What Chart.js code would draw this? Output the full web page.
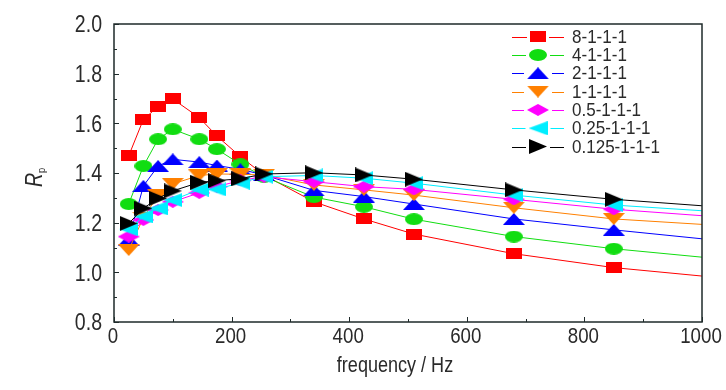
<!DOCTYPE html>
<html>
<head>
<meta charset="utf-8">
<script src="https://cdn.jsdelivr.net/npm/chart.js@4.4.1/dist/chart.umd.min.js"></script>
<style>
  html, body { margin: 0; padding: 0; background: #fff; }
  canvas { display: block; }
</style>
</head>
<body>
<canvas id="chart" width="726" height="390"></canvas>
<script>
// frequency (Hz); last point only carries the line out to the axis end
const freq = [25, 50, 75, 100, 145, 175, 215, 255, 340, 425, 510, 680, 850, 1000];

const rp8 = [1.469, 1.616, 1.667, 1.698, 1.623, 1.549, 1.466, 1.392, 1.284, 1.215, 1.154, 1.075, 1.019, 0.985];
const rp4 = [1.275, 1.428, 1.536, 1.576, 1.536, 1.496, 1.435, 1.385, 1.303, 1.264, 1.214, 1.144, 1.095, 1.061];
const rp2 = [1.130, 1.348, 1.428, 1.455, 1.444, 1.430, 1.415, 1.392, 1.330, 1.305, 1.275, 1.215, 1.171, 1.135];
const rp1 = [1.090, 1.220, 1.310, 1.356, 1.390, 1.396, 1.395, 1.392, 1.352, 1.332, 1.311, 1.260, 1.215, 1.193];
const rp05 = [1.144, 1.211, 1.251, 1.284, 1.320, 1.345, 1.370, 1.385, 1.365, 1.345, 1.334, 1.294, 1.254, 1.228];
const rp025 = [1.173, 1.225, 1.258, 1.291, 1.333, 1.334, 1.361, 1.385, 1.390, 1.379, 1.359, 1.311, 1.271, 1.248];
const rp0125 = [1.197, 1.258, 1.298, 1.328, 1.362, 1.369, 1.377, 1.396, 1.401, 1.392, 1.375, 1.332, 1.294, 1.268];

const seriesLabels = ['8-1-1-1', '4-1-1-1', '2-1-1-1', '1-1-1-1', '0.5-1-1-1', '0.25-1-1-1', '0.125-1-1-1'];
const seriesValues = [rp8, rp4, rp2, rp1, rp05, rp025, rp0125];
const seriesColors = ['#ff0000', '#11dd11', '#0000ff', '#ff8000', '#ff00ff', '#00eeff', '#000000'];
const seriesShapes = ['square', 'circle', 'up', 'down', 'diamond', 'left', 'right'];

const yTicks = [0.8, 1.0, 1.2, 1.4, 1.6, 1.8, 2.0];
const xTicks = [0, 200, 400, 600, 800, 1000];

const FONT = "'Liberation Sans', Arial, sans-serif";
const TEXT = '#2a2a2a';
const NARROW = 0.85; // the original uses a condensed face

// marker sizes (w, h) - the original figure is a bit stretched sideways
const markerSize = {
    square: [16, 11], circle: [18, 12], up: [22, 12], down: [22, 12],
    diamond: [22, 12], left: [19, 14], right: [18, 15]
};

function makeMarker(shape, color) {
    const w = markerSize[shape][0], h = markerSize[shape][1];
    const c = document.createElement('canvas');
    c.width = w; c.height = h;
    const g = c.getContext('2d');
    g.fillStyle = color;
    g.beginPath();
    if (shape === 'square') g.rect(0, 0, w, h);
    else if (shape === 'circle') g.ellipse(w / 2, h / 2, w / 2, h / 2, 0, 0, Math.PI * 2);
    else if (shape === 'up') { g.moveTo(w / 2, 0); g.lineTo(w, h); g.lineTo(0, h); }
    else if (shape === 'down') { g.moveTo(0, 0); g.lineTo(w, 0); g.lineTo(w / 2, h); }
    else if (shape === 'diamond') { g.moveTo(w / 2, 0); g.lineTo(w, h / 2); g.lineTo(w / 2, h); g.lineTo(0, h / 2); }
    else if (shape === 'left') { g.moveTo(0, h / 2); g.lineTo(w, 0); g.lineTo(w, h); }
    else if (shape === 'right') { g.moveTo(0, 0); g.lineTo(w, h / 2); g.lineTo(0, h); }
    g.closePath();
    g.fill();
    return c;
}

const markers = seriesShapes.map(function (s, i) { return makeMarker(s, seriesColors[i]); });

const datasets = seriesValues.map(function (vals, i) {
    return {
        label: seriesLabels[i],
        data: freq.map(function (f, j) { return { x: f, y: vals[j] }; }),
        borderColor: seriesColors[i],
        borderWidth: 1,
        pointStyle: markers[i],
        pointRadius: freq.map(function (f, j) { return j === freq.length - 1 ? 0 : 6; }),
        tension: 0,
        fill: false,
        order: seriesValues.length - i
    };
});

function narrowText(ctx, txt, x, y, align, scale) {
    ctx.save();
    ctx.translate(x, y);
    ctx.scale(scale, 1);
    ctx.textAlign = align;
    ctx.fillText(txt, 0, 0);
    ctx.restore();
}

const decorPlugin = {
    id: 'decor',
    afterDraw: function (chart) {
        const ctx = chart.ctx;
        const a = chart.chartArea;
        const xs = chart.scales.x, ys = chart.scales.y;
        ctx.save();

        // frame
        ctx.strokeStyle = '#1e2a2a';
        ctx.lineWidth = 1.5;
        ctx.strokeRect(a.left, a.top, a.right - a.left, a.bottom - a.top);

        // inward ticks, major + minor
        ctx.lineWidth = 1;
        ctx.beginPath();
        for (let v = 0; v <= 1000; v += 100) {
            const px = Math.round(xs.getPixelForValue(v)) + 0.5;
            const len = v % 200 === 0 ? 5 : 3;
            ctx.moveTo(px, a.bottom);
            ctx.lineTo(px, a.bottom - len);
        }
        for (let k = 8; k <= 20; k++) {
            const py = Math.round(ys.getPixelForValue(k / 10)) + 0.5;
            const len = k % 2 === 0 ? 5 : 3;
            ctx.moveTo(a.left, py);
            ctx.lineTo(a.left + len, py);
        }
        ctx.stroke();

        // tick labels
        ctx.fillStyle = TEXT;
        ctx.textBaseline = 'middle';
        ctx.font = '23px ' + FONT;
        yTicks.forEach(function (v) {
            narrowText(ctx, v.toFixed(1), a.left - 12, ys.getPixelForValue(v) + 2, 'right', NARROW);
        });
        ctx.font = '22px ' + FONT;
        xTicks.forEach(function (v) {
            narrowText(ctx, String(v), xs.getPixelForValue(v) - 1, 337, 'center', NARROW);
        });

        // axis titles
        ctx.textBaseline = 'alphabetic';
        ctx.font = '22px ' + FONT;
        narrowText(ctx, 'frequency / Hz', 395, 372, 'center', 0.82);

        ctx.save();
        ctx.translate(42, 187);
        ctx.rotate(-Math.PI / 2);
        ctx.scale(NARROW, 1);
        ctx.textAlign = 'left';
        ctx.font = 'italic 23px ' + FONT;
        ctx.fillText('R', 0, 0);
        const rw = ctx.measureText('R').width;
        ctx.font = '11px ' + FONT;
        ctx.fillText('p', rw, 3);
        ctx.restore();

        // legend
        const lx = 538, ly = 36.7, step = 18.3;
        ctx.font = '18.5px ' + FONT;
        ctx.textBaseline = 'middle';
        seriesLabels.forEach(function (lab, i) {
            const y = ly + step * i;
            const m = markers[i];
            ctx.strokeStyle = seriesColors[i];
            ctx.lineWidth = 1;
            ctx.beginPath();
            ctx.moveTo(512, Math.round(y) + 0.5);
            ctx.lineTo(lx - m.width / 2 - 3, Math.round(y) + 0.5);
            ctx.moveTo(lx + m.width / 2 + 3, Math.round(y) + 0.5);
            ctx.lineTo(564, Math.round(y) + 0.5);
            ctx.stroke();
            ctx.drawImage(m, lx - m.width / 2, y - m.height / 2);
            ctx.fillStyle = TEXT;
            narrowText(ctx, lab, 572, y + 1, 'left', 0.92);
        });
        ctx.restore();
    }
};

new Chart(document.getElementById('chart'), {
    type: 'line',
    data: { datasets: datasets },
    options: {
        responsive: false,
        animation: false,
        layout: { padding: { top: 24, right: 24, left: 0, bottom: 0 } },
        plugins: { legend: { display: false }, tooltip: { enabled: false } },
        scales: {
            x: {
                type: 'linear',
                min: 0,
                max: 1000,
                afterBuildTicks: function (scale) { scale.ticks = xTicks.map(function (v) { return { value: v }; }); },
                afterFit: function (scale) { scale.height = 68; },
                ticks: { display: false },
                grid: { display: false, drawTicks: false },
                border: { display: false }
            },
            y: {
                type: 'linear',
                min: 0.8,
                max: 2.0,
                afterBuildTicks: function (scale) { scale.ticks = yTicks.map(function (v) { return { value: v }; }); },
                afterFit: function (scale) { scale.width = 114; },
                ticks: { display: false },
                grid: { display: false, drawTicks: false },
                border: { display: false }
            }
        }
    },
    plugins: [decorPlugin]
});
</script>
</body>
</html>
